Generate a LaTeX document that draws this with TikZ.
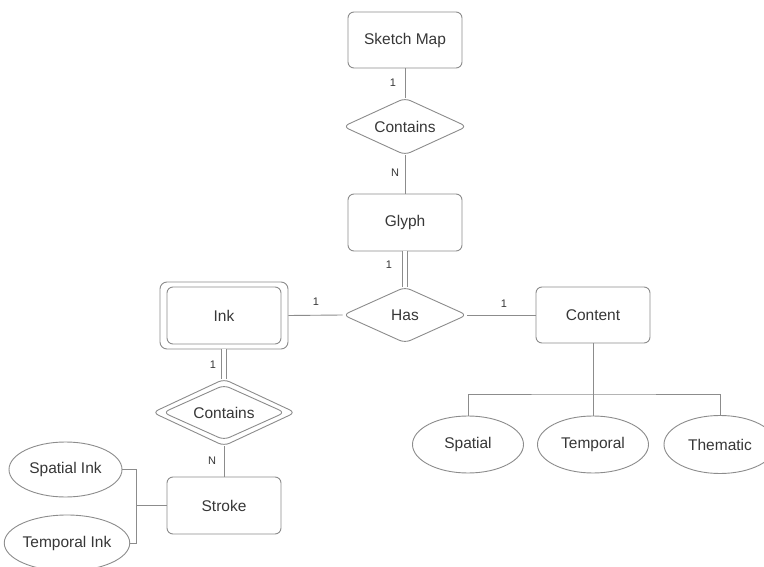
\documentclass[tikz,border=0pt]{standalone}
\usepackage{fontspec}
\setmainfont{Liberation Sans}
\usetikzlibrary{shapes.geometric}
\definecolor{ln}{RGB}{140,140,140}
\definecolor{tx}{RGB}{55,55,55}
\begin{document}
\begin{tikzpicture}[x=1pt,y=-1pt,
  every node/.style={text=tx},
  ent/.style={draw=ln,line width=0.9pt,rounded corners=6pt,rectangle,minimum width=114pt,minimum height=56pt,inner sep=0pt,font=\fontsize{15.5}{18}\selectfont},
  rel/.style={draw=ln,line width=0.9pt,diamond,rounded corners=6pt,inner sep=0pt,aspect=2.2,fill=white,font=\fontsize{15.5}{18}\selectfont},
  attr/.style={draw=ln,line width=0.9pt,ellipse,minimum width=113pt,minimum height=56pt,inner sep=0pt,font=\fontsize{15.5}{18}\selectfont},
  conn/.style={draw=ln,line width=0.9pt},
  dconn/.style={draw=ln,line width=0.9pt,double=white,double distance=3.6pt},
  card/.style={font=\fontsize{11}{13}\selectfont,inner sep=0pt}]
\path[use as bounding box] (0,0) rectangle (764,567);
\clip (0,0) rectangle (764,567);
\fill[white] (0,0) rectangle (764,567);

% entities
\node[ent] (sketch) at (405,40) {Sketch Map};
\node[rel,minimum width=124pt,minimum height=57pt] (contains1) at (405,126.5) {Contains};
\node[ent,minimum height=57pt] (glyph) at (405,222.5) {Glyph};
\node[rel,minimum width=124pt,minimum height=56pt] (has) at (405,315) {Has};
\node[draw=ln,line width=0.9pt,rounded corners=7pt,minimum width=128pt,minimum height=67pt,inner sep=0pt] (inkout) at (224,315.5) {};
\node[ent,minimum height=57pt] (ink) at (224,315.5) {Ink};
\node[ent] (content) at (593,315) {Content};
\node[rel,minimum width=143pt,minimum height=67pt] (contains2) at (224,412.5) {};
\node[rel,minimum width=122pt,minimum height=55pt] (contains2in) at (224,412.5) {Contains};
\node[ent,minimum height=57pt] (stroke) at (224,505.5) {Stroke};

% attributes
\node[attr,minimum width=111pt,minimum height=57pt] (spatial) at (468,444.5) {Spatial};
\node[attr,minimum width=111pt,minimum height=57pt] (temporal) at (593,444.5) {Temporal};
\node[attr,minimum width=112pt,minimum height=58pt] (thematic) at (720,444.5) {Thematic};
\node[attr,minimum width=113pt,minimum height=55pt] (spink) at (65.5,469.5) {Spatial Ink};
\node[attr,minimum width=114pt,minimum height=56pt] (tpink) at (67,543) {Temporal Ink};

% connectors
\draw[conn] (sketch.south) -- (contains1.north);
\draw[conn] (contains1.south) -- (glyph.north);
\draw[dconn] (glyph.south) -- (has.north);
\draw[conn] (inkout.east) -- (has.west);
\draw[conn] (has.east) -- (content.west);
\draw[dconn] (inkout.south) -- (contains2.north);
\draw[conn] (contains2.south) -- (stroke.north);

\coordinate (cj) at (593,394);
\draw[conn] (content.south) -- (cj);
\draw[conn] (spatial.north) |- (cj) -| (thematic.north);
\draw[conn] (cj) -- (temporal.north);

\coordinate (sj) at (136.5,505.5);
\draw[conn] (stroke.west) -- (sj);
\draw[conn] (spink.east) -| (sj) |- (tpink.east);

% cardinalities
\node[card] (c1) at (393,83) {1};
\node[card] (c2) at (395,173) {N};
\node[card] (c3) at (389,265) {1};
\node[card] (c4) at (316,302) {1};
\node[card] (c5) at (504,304) {1};
\node[card] (c6) at (213,365) {1};
\node[card] (c7) at (212,461) {N};
\end{tikzpicture}
\end{document}
